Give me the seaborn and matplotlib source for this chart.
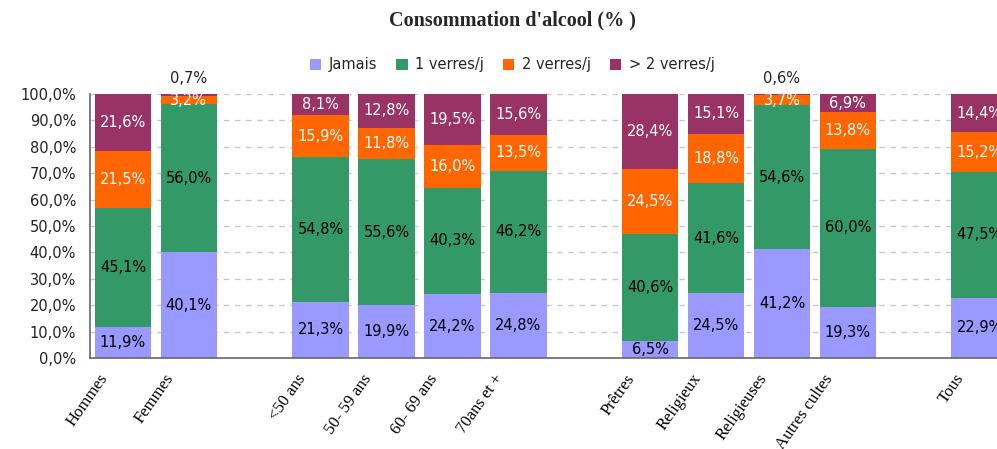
import matplotlib
matplotlib.use("Agg")
import matplotlib.pyplot as plt
import matplotlib.transforms as mtransforms
from matplotlib.patches import Patch
import seaborn as sns
import pandas as pd
import numpy as np

categories = ["Hommes", "Femmes", "<50 ans", "50-59 ans", "60-69 ans", "70ans et +",
              "Prêtres", "Religieux", "Religieuses", "Autres cultes", "Tous"]
order = ["Hommes", "Femmes", " ", "<50 ans", "50-59 ans", "60-69 ans", "70ans et +", "  ",
         "Prêtres", "Religieux", "Religieuses", "Autres cultes", "   ", "Tous"]
tick_labels = ["Hommes", "Femmes", "", "<50 ans", "50- 59 ans", "60- 69 ans", "70ans et +", "",
               "Prêtres", "Religieux", "Religieuses", "Autres cultes", "", "Tous"]
series = ["Jamais", "1 verres/j", "2 verres/j", "> 2 verres/j"]
jamais = [11.9, 40.1, 21.3, 19.9, 24.2, 24.8, 6.5, 24.5, 41.2, 19.3, 22.9]
un_verre = [45.1, 56.0, 54.8, 55.6, 40.3, 46.2, 40.6, 41.6, 54.6, 60.0, 47.5]
deux_verres = [21.5, 3.2, 15.9, 11.8, 16.0, 13.5, 24.5, 18.8, 3.7, 13.8, 15.2]
plus_deux = [21.6, 0.7, 8.1, 12.8, 19.5, 15.6, 28.4, 15.1, 0.6, 6.9, 14.4]
colors = ["#9999FF", "#339966", "#FF6600", "#993366"]
text_colors = ["black", "black", "white", "white"]

values = np.array([jamais, un_verre, deux_verres, plus_deux])
cum = np.cumsum(values, axis=0)
df = pd.DataFrame({"cat": categories})
for i, s in enumerate(series):
    df[s] = cum[i]

sns.set_style("white")
plt.rcParams["font.family"] = ["DejaVu Sans"]

fig = plt.figure(figsize=(9.97, 4.49), dpi=100)
ax = fig.add_axes([90 / 997, (449 - 358) / 449, 922.6 / 997, 264 / 449])

for i in reversed(range(4)):
    sns.barplot(data=df, x="cat", y=series[i], order=order, color=colors[i],
                saturation=1, width=0.86, ax=ax, zorder=2, errorbar=None, linewidth=0)

pos = {c: order.index(c) for c in categories}
for j, c in enumerate(categories):
    x = pos[c]
    for i in range(4):
        v = values[i, j]
        y = cum[i, j] - v / 2
        txt = f"{v:.1f}".replace(".", ",") + "%"
        if v < 1.5:
            ax.text(x, 100 + 6, txt, ha="center", va="center",
                    fontsize=10.5, color="#222222", clip_on=False)
        else:
            ax.text(x, y, txt, ha="center", va="center",
                    fontsize=10.5, color=text_colors[i], zorder=5)

ax.set_xlim(-0.5, 13.5)
ax.set_ylim(0, 100)
ax.set_yticks(np.arange(0, 101, 10))
ax.set_yticklabels([f"{v:.1f}".replace(".", ",") + "%" for v in np.arange(0, 101, 10)],
                   fontsize=10.5, color="#222222")
ax.set_xticks(range(len(order)))
ax.set_xticklabels(tick_labels, rotation=55, ha="right", rotation_mode="anchor",
                   fontsize=12, family=["Liberation Serif"], color="black")
ax.set_xticks(np.arange(-0.5, 13.6, 1), minor=True)
ax.tick_params(axis="x", which="major", length=0, pad=8)
ax.tick_params(axis="x", which="minor", length=4, direction="out", color="#555555", width=1)
ax.tick_params(axis="y", length=4, direction="out", color="#555555", width=1, pad=6)
ax.set_xlabel("")
ax.set_ylabel("")
ax.yaxis.grid(True, linestyle=(0, (4, 4)), color="#C8C8C8", linewidth=1, zorder=0)
ax.set_axisbelow(True)
for s in ["top", "right"]:
    ax.spines[s].set_visible(False)
for s in ["left", "bottom"]:
    ax.spines[s].set_color("#666666")
    ax.spines[s].set_linewidth(1.2)

offset = mtransforms.ScaledTranslation(-25 / 100, -2 / 100, fig.dpi_scale_trans)
for lab in ax.get_xticklabels():
    lab.set_transform(lab.get_transform() + offset)

fig.text(512 / 997, 1 - 20 / 449, "Consommation d'alcool (% )", ha="center", va="center",
         fontsize=14.5, fontweight="bold", family=["Liberation Serif"])

handles = [Patch(facecolor=colors[i], edgecolor="none", label=series[i]) for i in range(4)]
fig.legend(handles=handles, loc="center", bbox_to_anchor=(512 / 997, 1 - 65 / 449), ncol=4,
           frameon=False, fontsize=10.5, handlelength=0.8, handleheight=0.8,
           handletextpad=0.5, columnspacing=1.3, borderaxespad=0)

fig.savefig("out.png", dpi=100)
